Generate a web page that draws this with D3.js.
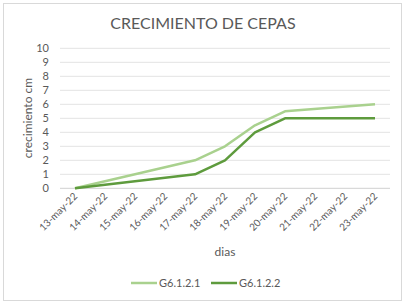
<!DOCTYPE html>
<html><head><meta charset="utf-8">
<script src="https://cdn.jsdelivr.net/npm/d3@7"></script>
<style>body{margin:0;background:#fff}svg{display:block}text{font-family:Lato,"Open Sans",sans-serif}</style>
</head><body><div id="c"></div>
<script>
const categories = ["13-may-22","14-may-22","15-may-22","16-may-22","17-may-22","18-may-22","19-may-22","20-may-22","21-may-22","22-may-22","23-may-22"];
const pointDates = ["13-may-22","17-may-22","18-may-22","19-may-22","20-may-22","23-may-22"];
const seriesA = [0, 2, 3, 4.5, 5.5, 6];
const seriesB = [0, 1, 2, 4, 5, 5];
const seriesNames = ["G6.1.2.1","G6.1.2.2"];
const yTicks = [0,1,2,3,4,5,6,7,8,9,10];

const W=405,H=305;
const svg=d3.select("#c").append("svg").attr("width",W).attr("height",H);
svg.append("rect").attr("x",3.5).attr("y",3.5).attr("width",398).attr("height",297).attr("fill","#fff").attr("stroke","#d9d9d9");

const x=d3.scaleBand().domain(categories).range([60,390]);
const y=d3.scaleLinear().domain([0,10]).range([188.3,48.3]);
const cx=d=>x(d)+x.bandwidth()/2;

svg.append("g").selectAll("line").data(yTicks).join("line")
 .attr("x1",60).attr("x2",390).attr("y1",d=>y(d)).attr("y2",d=>y(d))
 .attr("stroke",d=>d===0?"#d0d0d0":"#e3e3e3").attr("stroke-width",1);

svg.append("g").selectAll("text").data(yTicks).join("text")
 .attr("x",49).attr("y",d=>y(d)).attr("dy","0.35em").attr("text-anchor","end")
 .attr("font-size",11).attr("fill","#595959").text(d=>d);

svg.append("g").selectAll("text").data(categories).join("text")
 .attr("transform",d=>`translate(${cx(d)+3},${197}) rotate(-45)`)
 .attr("text-anchor","end").attr("font-size",10).attr("fill","#595959").text(d=>d);

svg.append("text").attr("x",203).attr("y",29).attr("text-anchor","middle")
 .attr("font-size",16).attr("fill","#595959").text("CRECIMIENTO DE CEPAS");
svg.append("text").attr("transform","translate(32,118) rotate(-90)").attr("text-anchor","middle")
 .attr("font-size",12).attr("fill","#595959").text("crecimiento cm");
svg.append("text").attr("x",225).attr("y",256).attr("text-anchor","middle")
 .attr("font-size",12).attr("fill","#595959").text("dias");

const colors=["#a9d18e","#5e9b3d"];
const line=d3.line().x(d=>cx(d[0])).y(d=>y(d[1]));
[seriesA,seriesB].forEach((s,i)=>{
 svg.append("path").datum(pointDates.map((d,j)=>[d,s[j]])).attr("d",line)
  .attr("fill","none").attr("stroke",colors[i]).attr("stroke-width",2.5).attr("stroke-linejoin","round");
});

const lg=[{x:131,n:0},{x:211,n:1}];
lg.forEach(o=>{
 svg.append("line").attr("x1",o.x).attr("x2",o.x+26).attr("y1",283).attr("y2",283).attr("stroke",colors[o.n]).attr("stroke-width",2.5);
 svg.append("text").attr("x",o.x+28).attr("y",283).attr("dy","0.35em").attr("font-size",11).attr("fill","#595959").text(seriesNames[o.n]);
});
</script></body></html>
